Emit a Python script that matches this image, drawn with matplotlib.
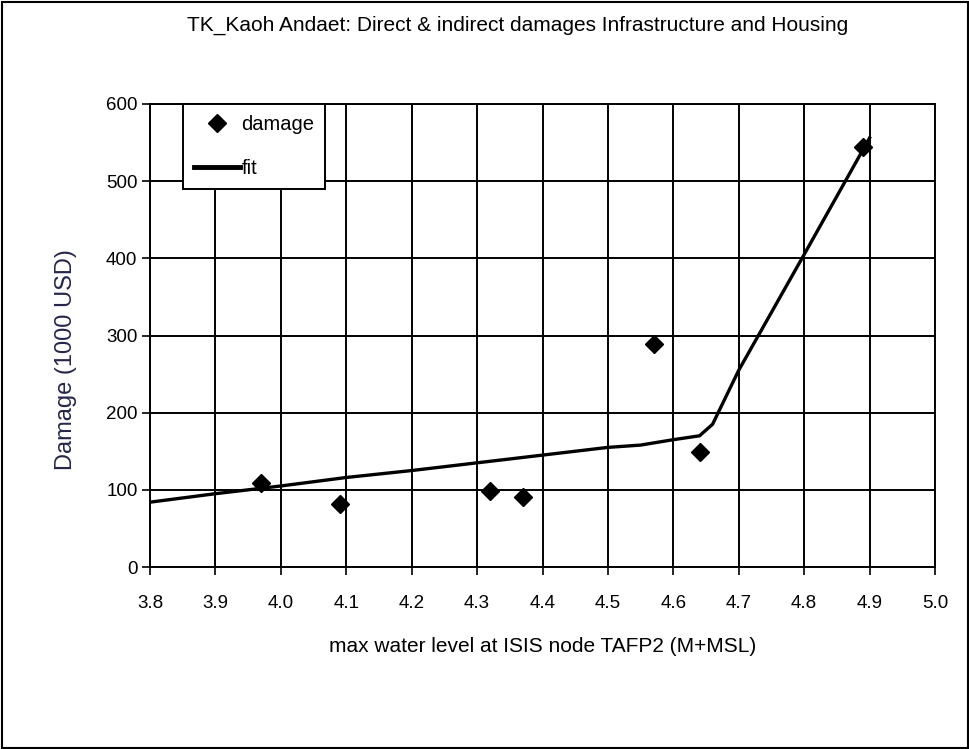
import matplotlib
matplotlib.use("Agg")
import matplotlib.pyplot as plt
from matplotlib.patches import Rectangle
from matplotlib.lines import Line2D

plt.rcParams['font.family'] = ['Liberation Sans', 'DejaVu Sans']

damage_x = [3.97, 4.09, 4.32, 4.37, 4.57, 4.64, 4.89]
damage_y = [109, 81, 98, 91, 289, 149, 544]

fit_x = [3.80, 3.90, 4.00, 4.10, 4.20, 4.30, 4.40, 4.50, 4.55, 4.60, 4.64, 4.66, 4.70, 4.80, 4.90]
fit_y = [84, 95, 105, 116, 125, 135, 145, 155, 158, 165, 170, 185, 255, 405, 556]

xticks = [3.8, 3.9, 4.0, 4.1, 4.2, 4.3, 4.4, 4.5, 4.6, 4.7, 4.8, 4.9, 5.0]
yticks = [0, 100, 200, 300, 400, 500, 600]

fig = plt.figure(figsize=(9.70, 7.49), dpi=100)
fig.patches.append(Rectangle((0.002, 0.002), 0.996, 0.995, transform=fig.transFigure,
                             fill=False, edgecolor='black', linewidth=1.5))

ax = fig.add_axes([150/970, 1-567/749, (935-150)/970, (567-104)/749])
ax.plot(fit_x, fit_y, color='black', linewidth=2.4, label='fit', zorder=3)
ax.plot(damage_x, damage_y, linestyle='none', marker='D', markersize=9,
        color='black', label='damage', zorder=4)

ax.set_xlim(3.8, 5.0)
ax.set_ylim(0, 600)
ax.set_xticks(xticks)
ax.set_xticklabels([f"{v:.1f}" for v in xticks])
ax.set_yticks(yticks)
ax.grid(True, color='black', linewidth=1.4)
ax.set_axisbelow(True)
for s in ax.spines.values():
    s.set_linewidth(1.4)
ax.tick_params(axis='both', labelsize=13.5, length=6, width=1.2, colors='black')
ax.tick_params(axis='x', pad=14)
ax.tick_params(axis='y', pad=3)

ax.set_xlabel('max water level at ISIS node TAFP2 (M+MSL)', fontsize=15, labelpad=18)
ax.set_ylabel('Damage (1000 USD)', fontsize=17, color='#26264a')
ax.yaxis.set_label_coords(-0.093, 0.447)

fig.text(518/970, 1-25/749, 'TK_Kaoh Andaet: Direct & indirect damages Infrastructure and Housing',
         ha='center', va='center', fontsize=15)

handles = [Line2D([], [], linestyle='none', marker='D', markersize=9, color='black'),
           Line2D([], [], color='black', linewidth=3.5)]
leg = ax.legend(handles, ['damage', 'fit'], loc='upper left', bbox_to_anchor=(33/785, 1.0),
                fontsize=14.5, frameon=True, fancybox=False, edgecolor='black',
                framealpha=1, borderpad=0.55, handlelength=2.3, handletextpad=0.05,
                labelspacing=1.25, borderaxespad=0)
leg.get_frame().set_linewidth(1.4)

fig.savefig('out.png', dpi=100)
